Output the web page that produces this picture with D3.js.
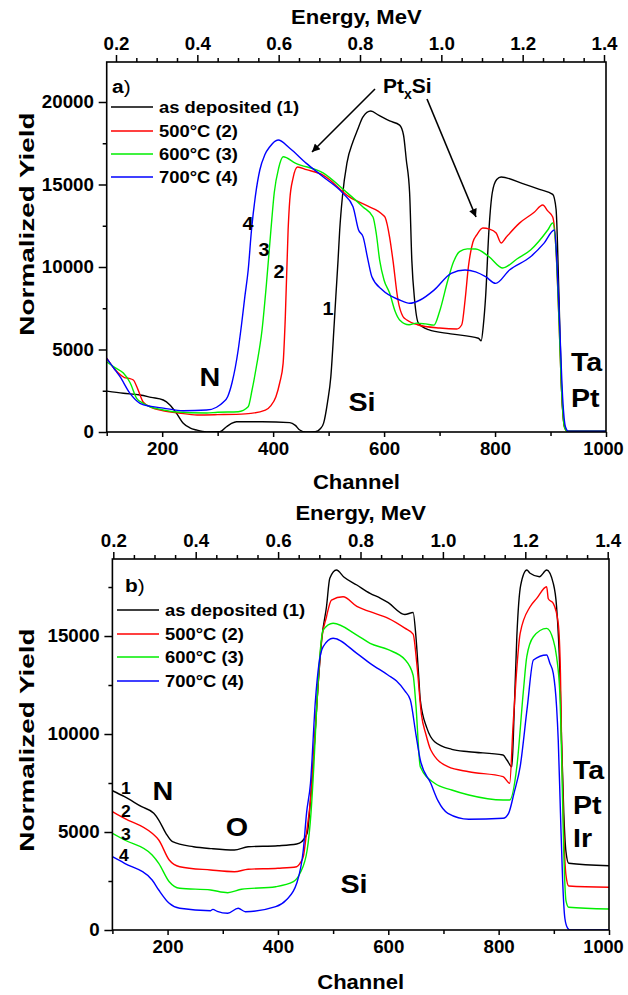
<!DOCTYPE html>
<html><head><meta charset="utf-8">
<script src="https://cdn.jsdelivr.net/npm/d3@7"></script>
<style>
body{margin:0;background:#fff}
text{font-family:"Liberation Sans",Arial,sans-serif;font-weight:bold;fill:#000}
</style></head>
<body><svg id="c" width="628" height="995"></svg>
<script>
// ---------- DATA (channel, normalized yield) ----------
const seriesNames = ["as deposited (1)", "500°C (2)", "600°C (3)", "700°C (4)"];
const seriesColors = ["#000000", "#ff0000", "#00ee00", "#0000ff"];
const channelTicks = [200, 400, 600, 800, 1000];
const channelMinor = [100, 300, 500, 700, 900];
const energyTicks = [0.2, 0.4, 0.6, 0.8, 1.0, 1.2, 1.4];
const yTicksA = [0, 5000, 10000, 15000, 20000];
const yTicksB = [0, 5000, 10000, 15000];

const aAsDep = [[100,2480],[130,2350],[160,2240],[180,2100],[202,1940],[214,1640],[226,1130],[238,530],[250,250],[262,120],[280,10],[304,20],[316,320],[325,520],[334,620],[380,620],[430,570],[440,400],[448,120],[459,0],[476,20],[485,200],[491,540],[498,1800],[504,3350],[510,6500],[513,8200],[517,10400],[520,12240],[525,14300],[533,16300],[544,17600],[552,18300],[562,19100],[576,19450],[590,19200],[610,18850],[628,18600],[635,18000],[640,16500],[646,14500],[650,10400],[655,8000],[662,6590],[680,6200],[720,5950],[770,5680],[775,5530],[779,6500],[783,8200],[789,12240],[795,14500],[803,15300],[811,15450],[850,15050],[880,14700],[904,14400],[910,13500],[915,8500],[920,2500],[925,400],[930,50],[1000,50]];
const a500 = [[100,4480],[110,4000],[120,3600],[132,3300],[140,3250],[148,3150],[156,2600],[166,1800],[180,1500],[200,1300],[230,1150],[263,1030],[300,1050],[350,1100],[386,1330],[396,1600],[405,2140],[412,3000],[418,4160],[422,7000],[427,12240],[430,14060],[436,15400],[444,16060],[460,15900],[490,15570],[538,14240],[570,13700],[598,13150],[602,13000],[610,11800],[616,10400],[625,8000],[634,7000],[641,6790],[660,6500],[700,6300],[731,6240],[740,6500],[746,8000],[752,10020],[760,11500],[767,11940],[778,12360],[790,12300],[802,12060],[811,11450],[820,11800],[844,12660],[870,13300],[886,13760],[895,13400],[904,13030],[910,11000],[915,7000],[920,2500],[925,300],[930,50],[1000,50]];
const a600 = [[100,4260],[115,3900],[130,3570],[142,3000],[154,2040],[165,1750],[178,1530],[200,1350],[220,1230],[280,1150],[300,1200],[337,1230],[355,1530],[362,2545],[370,4000],[380,6180],[388,9000],[396,12240],[402,14500],[410,16000],[418,16680],[440,16300],[490,15700],[530,14600],[562,13640],[580,13030],[586,12000],[592,10420],[600,9200],[610,8420],[620,7300],[628,6790],[645,6500],[659,6600],[675,6550],[690,6480],[700,7300],[715,9210],[725,10300],[736,10930],[750,11100],[765,11090],[789,10630],[814,9940],[840,10500],[864,11030],[895,12240],[904,12670],[910,11000],[915,7000],[920,2500],[925,300],[930,50],[1000,50]];
const a700 = [[100,4460],[112,3900],[124,3350],[142,2340],[160,1740],[180,1550],[202,1450],[238,1290],[280,1330],[298,1500],[310,1800],[318,2140],[326,3000],[337,4970],[343,6500],[349,8200],[355,9800],[361,12240],[368,14300],[376,15880],[385,16800],[394,17290],[409,17700],[430,17200],[460,16280],[490,15470],[526,14460],[544,13650],[554,12240],[562,11840],[571,10420],[578,9410],[597,8600],[628,8000],[646,7800],[665,8000],[690,8600],[721,9620],[746,9820],[765,9700],[783,9410],[801,9010],[826,9820],[864,10620],[888,11430],[907,12240],[912,10000],[917,6000],[922,2000],[927,300],[932,50],[1000,50]];

const bAsDep = [[100,7107],[122,6801],[153,6291],[175,5954],[184,5612],[197,4934],[209,4505],[247,4250],[280,4150],[321,4082],[346,4250],[400,4300],[434,4388],[443,4505],[453,4934],[460,7000],[465,9000],[471,11735],[480,15000],[488,16495],[494,17944],[506,18367],[520,18000],[543,17602],[567,17179],[586,16922],[600,16700],[630,16100],[645,16200],[650,15000],[655,13000],[658,11735],[670,10300],[684,9607],[715,9219],[746,9097],[808,8929],[815,8673],[824,8332],[828,11000],[833,15000],[840,17600],[851,18367],[857,18200],[874,18027],[887,18367],[899,17690],[905,16495],[911,13110],[914,9700],[918,6000],[922,4000],[927,3403],[1000,3281]];
const b500 = [[100,6036],[122,5699],[172,4934],[184,4592],[203,3571],[222,3230],[278,3061],[321,2974],[346,3100],[400,3150],[434,3230],[440,3403],[446,3740],[452,5000],[459,6633],[465,9000],[471,11735],[478,14500],[488,15985],[497,16837],[518,17005],[543,16510],[567,16240],[600,15900],[630,15400],[645,15100],[652,13500],[660,11000],[668,10000],[677,9184],[708,8332],[746,8077],[808,7827],[820,7485],[826,10374],[832,13000],[839,15138],[857,16495],[869,16922],[887,17517],[890,16900],[899,16667],[908,15646],[912,13100],[914,9700],[918,5000],[922,2800],[927,2245],[1000,2179]];
const b600 = [[100,4934],[122,4592],[172,3827],[184,3403],[203,2464],[222,2128],[278,2041],[309,1903],[334,2077],[396,2209],[428,2464],[440,2893],[453,4082],[460,6000],[465,8332],[471,11735],[476,14000],[482,15306],[500,15648],[543,15051],[567,14627],[600,14300],[630,13800],[645,13000],[650,11500],[658,8332],[684,7485],[715,7144],[746,6888],[808,6633],[820,6633],[833,8332],[845,12245],[851,13944],[863,14965],[887,15390],[899,14796],[905,13944],[911,12000],[914,9000],[918,4000],[922,1500],[927,1158],[1000,1071]];
const b700 = [[100,3740],[122,3403],[172,2551],[184,2041],[203,1362],[222,1107],[278,985],[282,1050],[290,950],[309,852],[328,1107],[341,935],[396,1189],[415,1531],[434,2383],[446,4082],[452,6000],[459,7485],[468,11735],[474,13500],[482,14454],[500,14883],[543,14117],[567,13607],[600,13000],[615,12700],[630,12200],[640,11735],[650,10000],[658,8673],[677,7485],[690,6600],[708,5954],[746,5654],[808,5700],[818,5954],[828,7000],[839,8332],[852,11395],[863,13776],[887,14031],[893,13600],[899,13100],[905,11395],[908,9700],[912,6000],[916,2500],[920,600],[925,100],[930,0],[1000,0]];

// ---------- DRAWING ----------
const svg = d3.select("#c");
const defs = svg.append("defs");
defs.append("marker").attr("id","arr").attr("viewBox","0 0 10 10").attr("refX",10).attr("refY",5)
  .attr("markerWidth",11).attr("markerHeight",8).attr("markerUnits","userSpaceOnUse").attr("orient","auto")
  .append("path").attr("d","M0,0 L10,5 L0,10 Z").attr("fill","#000");

function label(x, y, s, size, anchor, sx) {
  const g = svg.append("g").attr("transform", `translate(${x},${y}) scale(${sx||1.1},1)`);
  return g.append("text").attr("text-anchor", anchor || "middle").attr("dominant-baseline","central")
    .attr("font-size", size).text(s);
}

function panel(p) {
  const x = d3.scaleLinear().domain([100, 1000]).range([p.left, p.right]);
  const y = d3.scaleLinear().domain([0, p.ymax]).range([p.bottom, p.top]);
  const e = d3.scaleLinear().domain([0.2, 1.4]).range([p.e0, p.e1]);
  const g = svg.append("g");
  const styleAxis = (sel, fs) => {
    sel.select(".domain").remove();
    sel.selectAll("line").attr("stroke","#000").attr("stroke-width",1.5);
    sel.selectAll("text").attr("font-size", fs).attr("fill","#000").style("font-weight","bold")
      .attr("font-family","Liberation Sans, Arial, sans-serif");
  };
  // minor ticks
  const yMinor = d3.range(2500, p.ymax, 5000);
  g.append("g").attr("transform",`translate(${p.left},0)`)
    .call(d3.axisLeft(y).tickValues(yMinor).tickSize(4).tickFormat("")).call(s=>styleAxis(s,0));
  g.append("g").attr("transform",`translate(0,${p.bottom})`)
    .call(d3.axisBottom(x).tickValues(channelMinor).tickSize(4).tickFormat("")).call(s=>styleAxis(s,0));
  const eMinor = d3.range(0.25, 1.4, 0.05).filter(v => Math.abs((v*10) % 2) > 0.01 && Math.abs(v*10 % 2 - 2) > 0.01);
  g.append("g").attr("transform",`translate(0,${p.top})`)
    .call(d3.axisTop(e).tickValues(eMinor).tickSize(4).tickFormat("")).call(s=>styleAxis(s,0));
  // major ticks
  const ya = g.append("g").attr("transform",`translate(${p.left},0)`)
    .call(d3.axisLeft(y).tickValues(p.yTicks).tickSize(8).tickPadding(4).tickFormat(d3.format("d")));
  styleAxis(ya, 17.5);
  ya.selectAll("text").attr("transform","scale(1.07,1)");
  const xa = g.append("g").attr("transform",`translate(0,${p.bottom})`)
    .call(d3.axisBottom(x).tickValues(channelTicks).tickSize(5).tickPadding(6).tickFormat(d3.format("d")));
  styleAxis(xa, 17.5);
  xa.selectAll("text").attr("transform", d => d === 1000 ? `translate(${-(p.right - 603)},0) scale(1.04,1)` : "scale(1.07,1)");
  const ea = g.append("g").attr("transform",`translate(0,${p.top})`)
    .call(d3.axisTop(e).tickValues(energyTicks).tickSize(7).tickPadding(5).tickFormat(d3.format(".1f")));
  styleAxis(ea, 17.5);
  ea.selectAll("text").attr("transform","scale(1.07,1)");

  // clip
  const cid = "clip" + p.id;
  defs.append("clipPath").attr("id", cid).append("rect")
    .attr("x", p.left).attr("y", p.top).attr("width", p.right - p.left).attr("height", p.bottom - p.top);
  const line = d3.line().x(d => x(d[0])).y(d => y(d[1])).curve(d3.curveMonotoneX);
  const lg = g.append("g").attr("clip-path", `url(#${cid})`);
  p.series.forEach((s, i) => {
    lg.append("path").datum(s).attr("d", line).attr("fill","none")
      .attr("stroke", seriesColors[i]).attr("stroke-width", 1.4).attr("stroke-linejoin","round");
  });
  // frame
  g.append("rect").attr("x", p.left).attr("y", p.top).attr("width", p.right - p.left)
    .attr("height", p.bottom - p.top).attr("fill","none").attr("stroke","#000").attr("stroke-width",1.6);

  // titles
  label((p.left + p.right) / 2, p.energyTitleY, "Energy, MeV", 21, "middle", 1.05);
  label((p.left + p.right) / 2, p.channelTitleY, "Channel", 21, "middle", 1.05);
  svg.append("g").attr("transform", `translate(27,${p.ylabY}) rotate(-90) scale(1.33,1)`)
    .append("text").attr("text-anchor","middle").attr("dominant-baseline","central")
    .attr("font-size", 21).text("Normalized Yield");

  // legend
  seriesNames.forEach((n, i) => {
    const ly = p.legY[i];
    svg.append("line").attr("x1", p.legX).attr("x2", p.legX + 42).attr("y1", ly).attr("y2", ly)
      .attr("stroke", seriesColors[i]).attr("stroke-width", 1.4);
    label(p.legX + 48, ly, n, 16, "start", 1.15);
  });
  // panel tag
  const tg = svg.append("g").attr("transform", `translate(${p.tag[0]},${p.tag[1]}) scale(1.1,1)`)
    .append("text").attr("font-size", 19).attr("dominant-baseline","central");
  tg.append("tspan").text(p.tagText);
  tg.append("tspan").style("font-weight","normal").text(")");
  return {x, y};
}

panel({id:"a", left:106.7, right:606, top:62, bottom:432, ymax:22424, e0:116, e1:604,
  yTicks:yTicksA, series:[aAsDep, a500, a600, a700], ylabY:224,
  energyTitleY:17, channelTitleY:482, legX:111, legY:[107,131,154,177], tag:[112,86], tagText:"a"});
panel({id:"b", left:112.4, right:609, top:559, bottom:930, ymax:18930, e0:113.3, e1:607.7,
  yTicks:yTicksB, series:[bAsDep, b500, b600, b700], ylabY:740,
  energyTitleY:513, channelTitleY:982, legX:117, legY:[610,634,657,681], tag:[125,585], tagText:"b"});

// ---------- annotations ----------
// panel a
const px = svg.append("text").attr("x", 383).attr("y", 93).attr("font-size", 21);
px.append("tspan").text("Pt");
px.append("tspan").attr("font-size", 14).attr("dy", 6).text("x");
px.append("tspan").attr("dy", -6).text("Si");
svg.append("line").attr("x1",375).attr("y1",89).attr("x2",312).attr("y2",152)
  .attr("stroke","#000").attr("stroke-width",1.6).attr("marker-end","url(#arr)");
svg.append("line").attr("x1",427).attr("y1",99).attr("x2",476).attr("y2",217)
  .attr("stroke","#000").attr("stroke-width",1.6).attr("marker-end","url(#arr)");
label(248, 224, "4", 18); label(264, 250, "3", 18); label(279, 272, "2", 18); label(328, 309, "1", 18);
label(210, 378, "N", 25, "middle", 1.15);
label(362, 403, "Si", 25, "middle", 1.15);
label(571, 362, "Ta", 26, "start", 1.1);
label(571, 398, "Pt", 26, "start", 1.1);
// panel b
label(126, 789, "1", 16); label(126, 812, "2", 16); label(126, 835, "3", 16); label(124, 856, "4", 16);
label(163, 792, "N", 25, "middle", 1.15);
label(237, 828, "O", 25, "middle", 1.15);
label(354, 885, "Si", 25, "middle", 1.15);
label(573, 770, "Ta", 26, "start", 1.1);
label(573, 805, "Pt", 26, "start", 1.1);
label(573, 838, "Ir", 26, "start", 1.1);
</script></body></html>
